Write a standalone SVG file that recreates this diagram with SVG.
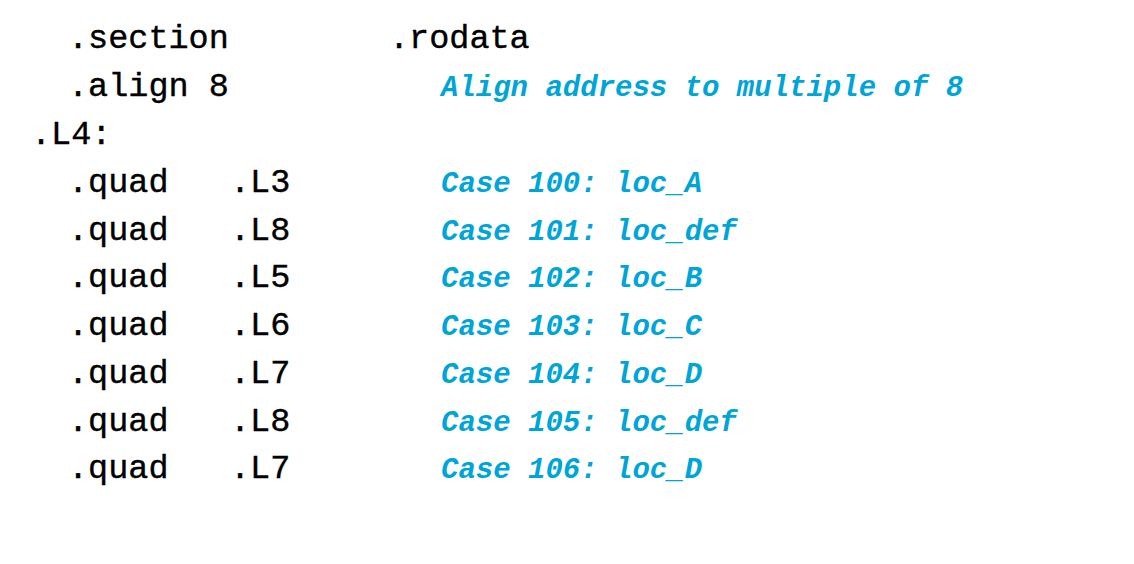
<svg xmlns="http://www.w3.org/2000/svg" width="1134" height="564" viewBox="0 0 1134 564">
<style>
.k{font-family:"Liberation Mono","DejaVu Sans Mono",monospace;font-size:33.5px;fill:#000;stroke:#000;stroke-width:0.4}
.c{font-family:"Liberation Mono","DejaVu Sans Mono",monospace;font-size:29px;font-weight:bold;font-style:italic;fill:#00a5d8}
</style>
<rect width="1134" height="564" fill="#fff"/>
<g id="line-section"><text class="k" x="68" y="48">.section</text><text class="k" x="389" y="48">.rodata</text></g>
<g id="line-align"><text class="k" x="68" y="96">.align 8</text><text class="c" x="441" y="96">Align address to multiple of 8</text></g>
<g id="line-L4"><text class="k" x="31" y="144">.L4:</text></g>
<g id="q1"><text class="k" x="68" y="192">.quad</text><text class="k" x="230" y="192">.L3</text><text class="c" x="441" y="192">Case 100: loc_A</text></g>
<g id="q2"><text class="k" x="68" y="240">.quad</text><text class="k" x="230" y="240">.L8</text><text class="c" x="441" y="240">Case 101: loc_def</text></g>
<g id="q3"><text class="k" x="68" y="287">.quad</text><text class="k" x="230" y="287">.L5</text><text class="c" x="441" y="287">Case 102: loc_B</text></g>
<g id="q4"><text class="k" x="68" y="335">.quad</text><text class="k" x="230" y="335">.L6</text><text class="c" x="441" y="335">Case 103: loc_C</text></g>
<g id="q5"><text class="k" x="68" y="383">.quad</text><text class="k" x="230" y="383">.L7</text><text class="c" x="441" y="383">Case 104: loc_D</text></g>
<g id="q6"><text class="k" x="68" y="431">.quad</text><text class="k" x="230" y="431">.L8</text><text class="c" x="441" y="431">Case 105: loc_def</text></g>
<g id="q7"><text class="k" x="68" y="478">.quad</text><text class="k" x="230" y="478">.L7</text><text class="c" x="441" y="478">Case 106: loc_D</text></g>
<g id="connectors"/>
</svg>
